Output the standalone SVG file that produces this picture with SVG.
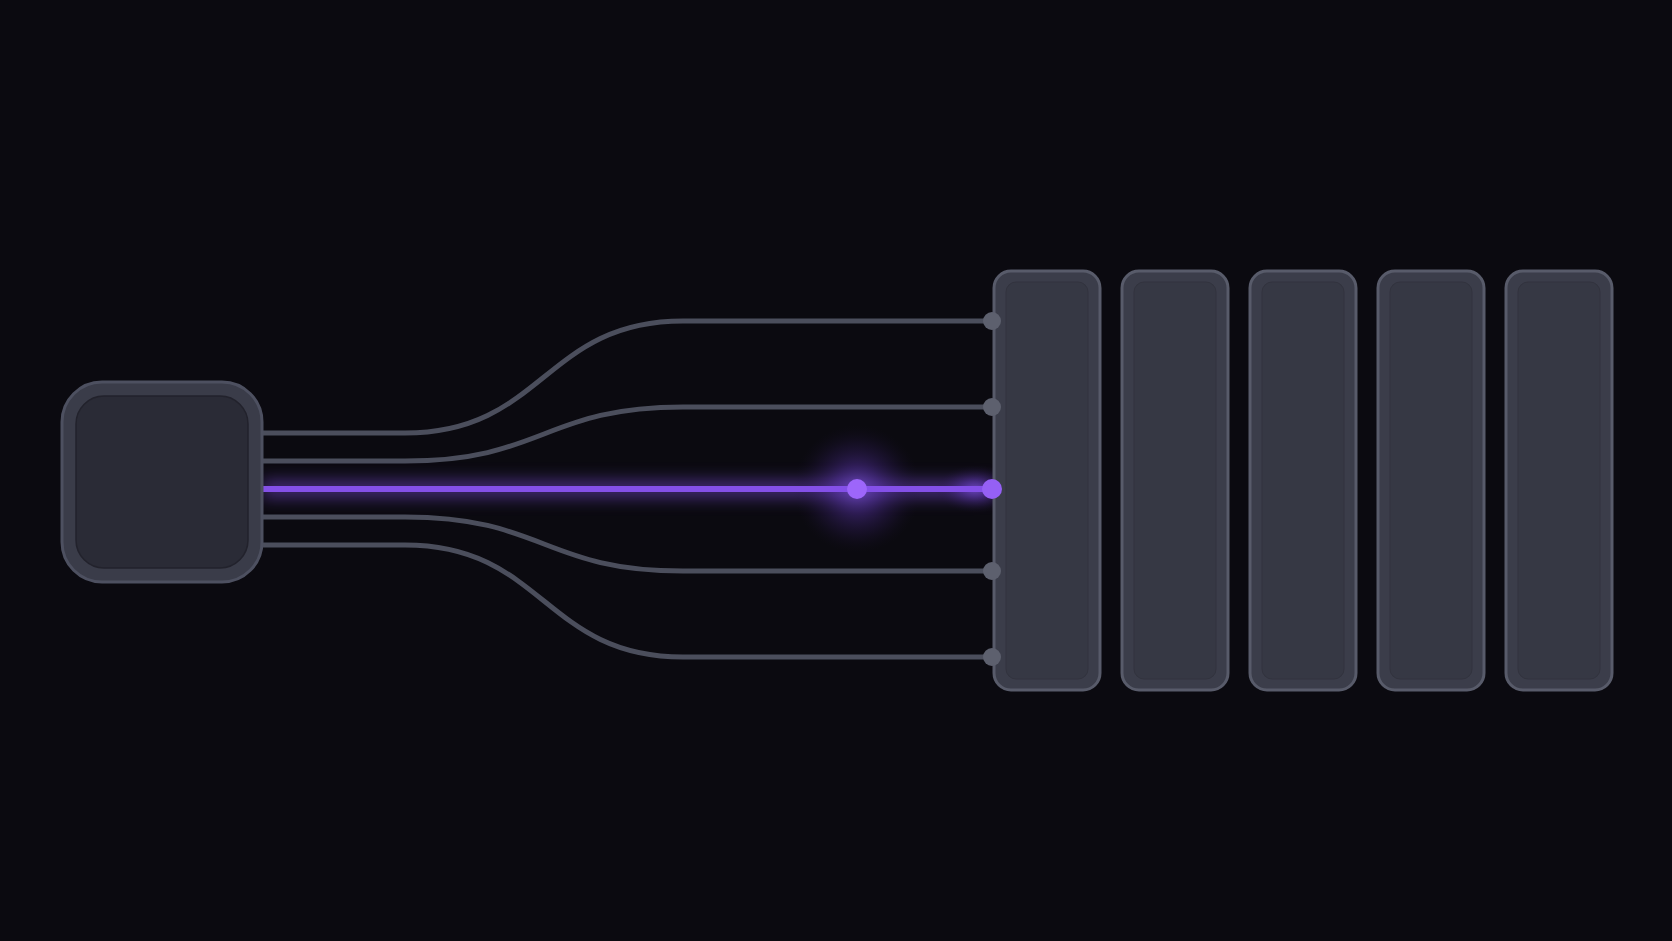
<svg xmlns="http://www.w3.org/2000/svg" width="1672" height="941" viewBox="0 0 1672 941">
<defs>
<style>
.wire{fill:none;stroke:#4b4e5c;stroke-width:5;stroke-linecap:round}
.port{fill:#5d606e}
.panel-outer{fill:#3b3d4a;stroke:#585b6a;stroke-width:3}
.panel-inner{fill:#363844;stroke:#32333e;stroke-width:1}
</style>
<filter id="blur8" filterUnits="userSpaceOnUse" x="200" y="420" width="860" height="140"><feGaussianBlur stdDeviation="8"/></filter>
<radialGradient id="halo" cx="0.5" cy="0.5" r="0.5">
<stop offset="0" stop-color="#8b5cf6" stop-opacity="0.6"/>
<stop offset="0.35" stop-color="#6d3fd0" stop-opacity="0.38"/>
<stop offset="0.7" stop-color="#3b2270" stop-opacity="0.22"/>
<stop offset="1" stop-color="#1a1030" stop-opacity="0"/>
</radialGradient>
</defs>
<rect width="1672" height="941" fill="#0b0a10"/>
<g id="connectors">
<path class="wire" d="M262 433 H405 C544 433 544 321 683 321 H992"/>
<path class="wire" d="M262 461 H405 C544 461 544 407 683 407 H992"/>
<path class="wire" d="M262 517 H405 C544 517 544 571 683 571 H992"/>
<path class="wire" d="M262 545 H405 C544 545 544 657 683 657 H992"/>
<path d="M262 489 H992" stroke="#7c4ddc" stroke-width="18" opacity="0.5" filter="url(#blur8)"/>
<circle cx="857" cy="489" r="64" fill="url(#halo)"/>
<ellipse cx="975" cy="489" rx="40" ry="24" fill="url(#halo)"/>
<path d="M262 489 H992" stroke="#8450e8" stroke-width="6" fill="none"/>
</g>
<g id="source">
<rect x="62" y="382" width="200" height="200" rx="40" fill="#3a3c49" stroke="#4d5060" stroke-width="3"/>
<rect x="76" y="396" width="172" height="172" rx="28" fill="#2a2b36" stroke="#22222c" stroke-width="1.5"/>
</g>
<g id="panel-1"><rect class="panel-outer" x="994" y="271" width="106" height="419" rx="17"/><rect class="panel-inner" x="1006" y="282" width="82" height="397" rx="10"/></g>
<g id="panel-2"><rect class="panel-outer" x="1122" y="271" width="106" height="419" rx="17"/><rect class="panel-inner" x="1134" y="282" width="82" height="397" rx="10"/></g>
<g id="panel-3"><rect class="panel-outer" x="1250" y="271" width="106" height="419" rx="17"/><rect class="panel-inner" x="1262" y="282" width="82" height="397" rx="10"/></g>
<g id="panel-4"><rect class="panel-outer" x="1378" y="271" width="106" height="419" rx="17"/><rect class="panel-inner" x="1390" y="282" width="82" height="397" rx="10"/></g>
<g id="panel-5"><rect class="panel-outer" x="1506" y="271" width="106" height="419" rx="17"/><rect class="panel-inner" x="1518" y="282" width="82" height="397" rx="10"/></g>
<g id="ports">
<circle class="port" cx="992" cy="321" r="9"/>
<circle class="port" cx="992" cy="407" r="9"/>
<circle class="port" cx="992" cy="571" r="9"/>
<circle class="port" cx="992" cy="657" r="9"/>
<circle cx="992" cy="489" r="10" fill="#9560f5"/>
<circle cx="857" cy="489" r="10" fill="#9d66fa"/>
</g>
</svg>
